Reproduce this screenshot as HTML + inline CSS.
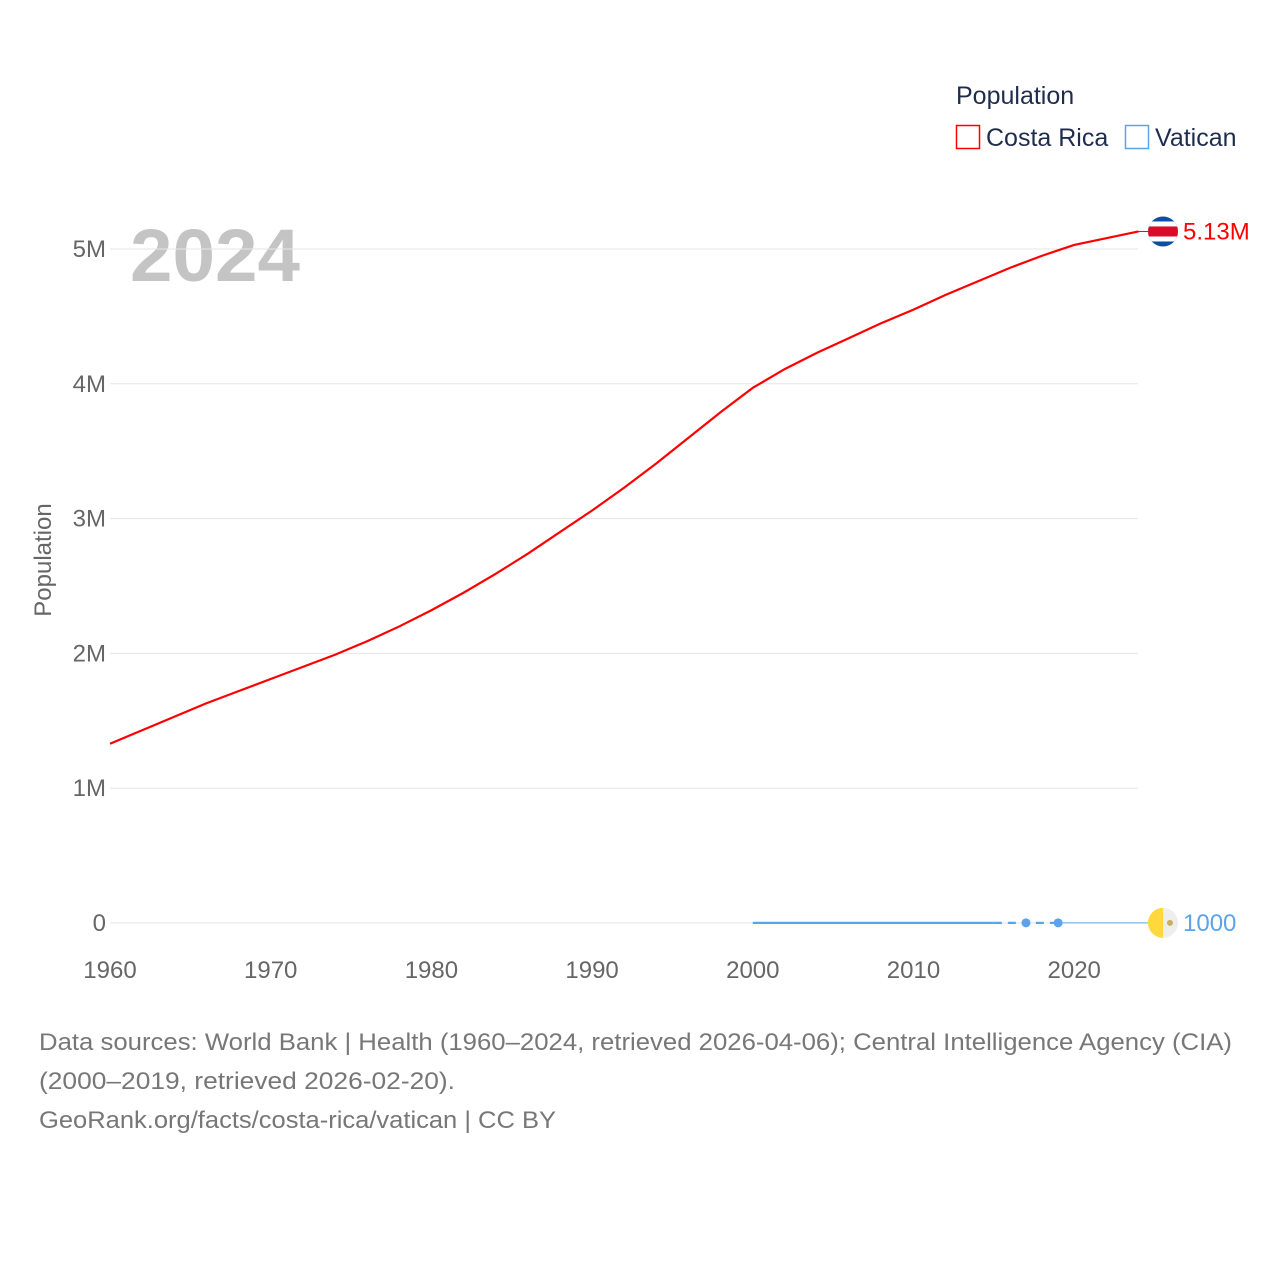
<!DOCTYPE html>
<html><head><meta charset="utf-8">
<style>
body{margin:0;background:#fff;width:1280px;height:1280px;overflow:hidden;font-family:"Liberation Sans",sans-serif}
svg text{font-family:"Liberation Sans",sans-serif}
</style></head>
<body>
<svg id="chart" width="1280" height="1280" xmlns="http://www.w3.org/2000/svg">
<text x="956" y="104" font-size="25" fill="#1f2d4d">Population</text>
<g><rect x="956.5" y="125.5" width="23" height="23" fill="none" stroke="#ff0000" stroke-width="1.5"/><text x="986" y="146" font-size="25" fill="#1f2d4d">Costa Rica</text></g>
<g><rect x="1125.5" y="125.5" width="23" height="23" fill="none" stroke="#5ba4ec" stroke-width="1.5"/><text x="1155" y="146" font-size="25" fill="#1f2d4d">Vatican</text></g>
<text x="130" y="281" font-size="74" font-weight="bold" fill="#c4c4c4" textLength="170" lengthAdjust="spacingAndGlyphs">2024</text>
<text transform="translate(51,560) rotate(-90)" text-anchor="middle" font-size="24" fill="#666">Population</text>
<g id="grid"></g><g id="series"></g>
<text x="39" y="1050" font-size="24" fill="#777" textLength="1193" lengthAdjust="spacingAndGlyphs">Data sources: World Bank | Health (1960–2024, retrieved 2026-04-06); Central Intelligence Agency (CIA)</text>
<text x="39" y="1089" font-size="24" fill="#777" textLength="416" lengthAdjust="spacingAndGlyphs">(2000–2019, retrieved 2026-02-20).</text>
<text x="39" y="1128" font-size="24" fill="#777" textLength="517" lengthAdjust="spacingAndGlyphs">GeoRank.org/facts/costa-rica/vatican | CC BY</text>
</svg>
<script>
const xTicks=[1960,1970,1980,1990,2000,2010,2020];
const yTicks=[0,1,2,3,4,5];
const yTickLabels=["0","1M","2M","3M","4M","5M"];
const crYears=[1960,1962,1964,1966,1968,1970,1972,1974,1976,1978,1980,1982,1984,1986,1988,1990,1992,1994,1996,1998,2000,2002,2004,2006,2008,2010,2012,2014,2016,2018,2019,2020,2022,2024];
const crValues=[1.33,1.43,1.53,1.63,1.72,1.81,1.90,1.99,2.09,2.20,2.32,2.45,2.59,2.74,2.90,3.06,3.23,3.41,3.60,3.79,3.97,4.11,4.23,4.34,4.45,4.55,4.66,4.76,4.86,4.95,4.99,5.03,5.08,5.13];
const vaYears=[2000,2006,2015,2017,2019];
const vaValues=[0.00089,0.00092,0.00084,0.001,0.001];
const NS="http://www.w3.org/2000/svg";
const X=y=>110+(y-1960)*16.07;
const Y=v=>923-v*134.8;
function mk(tag,attrs,parent){const e=document.createElementNS(NS,tag);for(const k in attrs)e.setAttribute(k,attrs[k]);parent.appendChild(e);return e;}
const grid=document.getElementById('grid'),ser=document.getElementById('series');
yTicks.forEach((t,i)=>{
 const l=mk('line',{x1:110,x2:1138,y1:Y(t),y2:Y(t),stroke:'#e6e6e6','stroke-width':1},grid);
 
 
 const tx=mk('text',{x:106,y:Y(t)+8,'text-anchor':'end','font-size':24,fill:'#666'},grid);tx.textContent=yTickLabels[i];
 
 
});
xTicks.forEach(t=>{
 const tx=mk('text',{x:X(t),y:978,'text-anchor':'middle','font-size':24,fill:'#666'},grid);tx.textContent=t;
 
 
});
const cr=mk('polyline',{points:crYears.map((y,i)=>X(y)+','+Y(crValues[i])).join(' '),fill:'none',stroke:'#ff0000','stroke-width':2.2},ser);


const crLast=crValues[crValues.length-1];
mk('line',{x1:X(2024),x2:1150,y1:Y(crLast),y2:Y(crLast),stroke:'#ff0000','stroke-width':1},ser);
const fl=mk('g',{},ser);


const cy=Y(crLast);
mk('clipPath',{id:'cc'},fl).appendChild(document.createElementNS(NS,'circle'));
const cc=fl.querySelector('clipPath circle');cc.setAttribute('cx',1163);cc.setAttribute('cy',cy);cc.setAttribute('r',15);
const fg=mk('g',{'clip-path':'url(#cc)'},fl);
mk('rect',{x:1148,y:cy-15,width:30,height:30,fill:'#0b4ea2'},fg);
mk('rect',{x:1148,y:cy-10,width:30,height:20,fill:'#fff'},fg);
mk('rect',{x:1148,y:cy-5,width:30,height:10,fill:'#da0a2b'},fg);
const crL=mk('text',{x:1183,y:cy+8,'font-size':24,fill:'#ff0000'},ser);crL.textContent='5.13M';


const solid=vaYears.slice(0,3).map((y,i)=>X(y)+','+Y(vaValues[i])).join(' ');
const vs=mk('polyline',{points:solid,fill:'none',stroke:'#5ba4ec','stroke-width':2.2},ser);


const vd=mk('polyline',{points:vaYears.slice(2).map((y,i)=>X(y)+','+Y(vaValues[i+2])).join(' '),fill:'none',stroke:'#5ba4ec','stroke-width':2.2,'stroke-dasharray':'8 6'},ser);


vaYears.slice(3).forEach((y,i)=>{
 const c=mk('circle',{cx:X(y),cy:Y(vaValues[i+3]),r:4.5,fill:'#5ba4ec'},ser);
 
 
});
const vLast=vaValues[vaValues.length-1];
mk('line',{x1:X(2019),x2:1150,y1:Y(vLast),y2:Y(vLast),stroke:'#5ba4ec','stroke-width':1},ser);
const vf=mk('g',{},ser);


const vy=Y(vLast);
mk('path',{d:`M1163 ${vy-15} A15 15 0 0 0 1163 ${vy+15} Z`,fill:'#ffd83d'},vf);
mk('path',{d:`M1163 ${vy-15} A15 15 0 0 1 1163 ${vy+15} Z`,fill:'#eeeeee'},vf);
mk('circle',{cx:1170,cy:vy,r:3,fill:'#c8b060'},vf);
const vL=mk('text',{x:1183,y:vy+8,'font-size':24,fill:'#5ba4ec'},ser);vL.textContent='1000';


</script>
</body></html>
